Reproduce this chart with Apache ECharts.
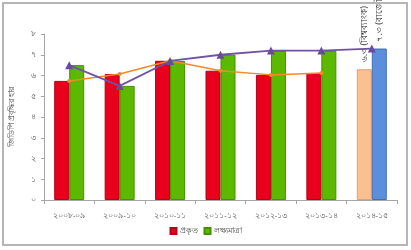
<!DOCTYPE html>
<html><head><meta charset="utf-8">
<script src="https://cdn.jsdelivr.net/npm/echarts@6/dist/echarts.min.js"></script>
<style>html,body{margin:0;padding:0;background:#fff}#c{width:411px;height:250px}</style>
</head><body><div id="c"></div>
<script>
const categories = ['২০০৮-০৯','২০০৯-১০','২০১০-১১','২০১১-১২','২০১২-১৩','২০১৩-১৪','২০১৪-১৫'];
const actual = [5.74, 6.07, 6.71, 6.23, 6.03, 6.12, 6.3];
const target = [6.5, 5.5, 6.7, 7.0, 7.2, 7.2, 7.3];
const actualLine = [5.74, 6.07, 6.71, 6.23, 6.03, 6.12, null];
const targetLine = [6.5, 5.5, 6.7, 7.0, 7.2, 7.2, 7.3];
const yTickLabels = ['০','১','২','৩','৪','৫','৬','৭','৮'];
const seriesNames = ['প্রকৃত','লক্ষ্যমাত্রা'];
const yAxisName = 'জিডিপি প্রবৃদ্ধির হার';
const lastLabels = ['৬.৩ (বিশ্বব্যাংক)', '৭.৩ (বাজেট)'];

const FONT = "'Noto Sans', 'DejaVu Sans', sans-serif";
const last = categories.length - 1;
const labelCfg = (txt) => ({show:true, position:'top', distance:7, rotate:90, align:'left', verticalAlign:'middle',
  fontSize:9, color:'#333', fontFamily:FONT, formatter: () => txt});

const redData = actual.map((v,i) => i===last ? {value:v, itemStyle:{color:'#FAC090', borderColor:'#E0A070'}, label:labelCfg(lastLabels[0])} : v);
const greenData = target.map((v,i) => i===last ? {value:v, itemStyle:{color:'#5B8FDB', borderColor:'#3F6FB5'}, label:labelCfg(lastLabels[1])} : v);

const chart = echarts.init(document.getElementById('c'), null, {renderer:'canvas'});
chart.setOption({
  animation:false,
  backgroundColor:'#fff',
  textStyle:{fontFamily:FONT},
  grid:{left:44, right:14, top:34, bottom:50},
  legend:{data:seriesNames, bottom:10, left:'center', itemWidth:6, itemHeight:6, itemGap:6,
    icon:'rect', textStyle:{fontSize:8, color:'#404040', fontFamily:FONT, padding:[0,0,0,-2]}},
  xAxis:{type:'category', data:categories, boundaryGap:true,
    axisLine:{lineStyle:{color:'#A6A6A6'}}, axisTick:{show:true, length:4, lineStyle:{color:'#A6A6A6'}},
    axisLabel:{fontSize:7.5, color:'#505050', margin:12, interval:0}},
  yAxis:{type:'value', min:0, max:8, interval:1, name:yAxisName, nameLocation:'middle', nameGap:28,
    nameTextStyle:{fontSize:8, color:'#404040', fontFamily:FONT},
    axisLine:{show:true, lineStyle:{color:'#A6A6A6'}}, axisTick:{show:true, length:3, lineStyle:{color:'#A6A6A6'}},
    splitLine:{show:false},
    axisLabel:{fontSize:8, color:'#505050', margin:8, formatter:(v)=>yTickLabels[v]}},
  series:[
    {name:seriesNames[0], type:'bar', data:redData, barWidth:15, barGap:'0%',
      itemStyle:{color:'#E8001C', borderColor:'#B80016', borderWidth:1}},
    {name:seriesNames[1], type:'bar', data:greenData, barWidth:15, barGap:'0%',
      itemStyle:{color:'#5DB800', borderColor:'#479000', borderWidth:1}},
    {name:'actualLine', type:'line', data:actualLine, symbol:'circle', symbolSize:4, z:5,
      lineStyle:{color:'#F28A2A', width:1.5}, itemStyle:{color:'#F28A2A'}},
    {name:'targetLine', type:'line', data:targetLine, symbol:'triangle', symbolSize:8, z:6,
      lineStyle:{color:'#7252A3', width:1.8}, itemStyle:{color:'#6A4A9C'}}
  ],
  graphic:[{type:'rect', shape:{x:3, y:3, width:404, height:242}, style:{fill:'none', stroke:'#B5B5B5', lineWidth:2}, silent:true, z:100}]
});
</script></body></html>
